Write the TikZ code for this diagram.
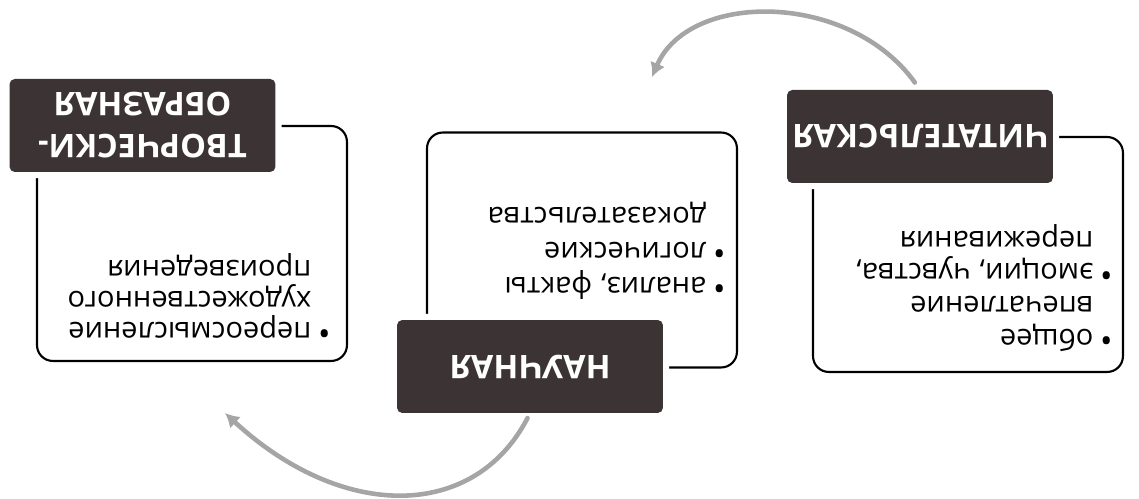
\documentclass[tikz,border=0pt]{standalone}
\usepackage{fontspec}
\setmainfont{Open Sans}
\usetikzlibrary{arrows.meta, positioning}
\definecolor{tagdark}{RGB}{60, 52, 52}
\definecolor{arrowgray}{RGB}{165, 165, 165}
\newcommand{\bul}{\makebox[11pt][l]{\raisebox{-0.5pt}{\fontsize{19}{19}\selectfont\textbullet}}}
\newcommand{\ind}{\hspace*{11pt}}

\begin{document}
\begin{tikzpicture}[
  x=0.02cm, y=-0.02cm, rotate=180, transform shape,
  blockbox/.style = {rectangle, rounded corners=9pt, draw=black, line width=1.2pt,
                     minimum width=6.2cm, minimum height=4.7cm},
  tagbox/.style = {rectangle, rounded corners=3pt, fill=tagdark, text=white,
                   preaction={draw=white, line width=7pt},
                   minimum width=5.32cm, minimum height=1.86cm, inner sep=0pt,
                   align=center, font=\bfseries\fontsize{18.5}{24}\selectfont},
  itembox/.style = {inner sep=0pt, align=left, font=\fontsize{16.5}{#1}\selectfont},
  cyclearr/.style = {-{Latex[length=8pt, width=9pt]}, line width=2.6pt,
                     arrowgray, line cap=round}
]
\useasboundingbox (0,0) rectangle (1139,499);

% the three kinds of reading
\node[blockbox] (read)  at (171,244.5) {};
\node[blockbox] (sci)   at (557,249)   {};
\node[blockbox] (creat) at (947,255.5) {};

\node[itembox=18.7, below right=0.4cm and 0.22cm of read.north west] (readtxt)
  {\strut\bul общее\\ \ind впечатление\\ \bul эмоции, чувства,\\ \ind переживания};
\node[itembox=20, below right=1.32cm and 0.24cm of sci.north west] (scitxt)
  {\strut\bul анализ, факты\\ \bul логические\\ \ind доказательства};
\node[itembox=17.6, below right=0.35cm and 0.34cm of creat.north west] (creattxt)
  {\strut\bul переосмысление\\ \ind художественного\\ \ind произведения};

% dark tags over the frames
\node[tagbox] (readtag)  at (219,362.5) {ЧИТАТЕЛЬСКАЯ};
\node[tagbox] (scitag)   at (609,132.5) {НАУЧНАЯ};
\node[tagbox] (creattag) at (996.5,373.5) {ТВОРЧЕСКИ-\\ОБРАЗНАЯ};

% cycle arrows
\coordinate (toSci)   at (487,422);
\coordinate (toCreat) at (914,86);
\draw[cyclearr, shorten <=5pt] (readtag.south) .. controls (290,508) and (450,508) .. (toSci);
\draw[cyclearr, shorten <=3pt] (scitag.north) .. controls (665,-22) and (797,-22) .. (toCreat);
\end{tikzpicture}
\end{document}
